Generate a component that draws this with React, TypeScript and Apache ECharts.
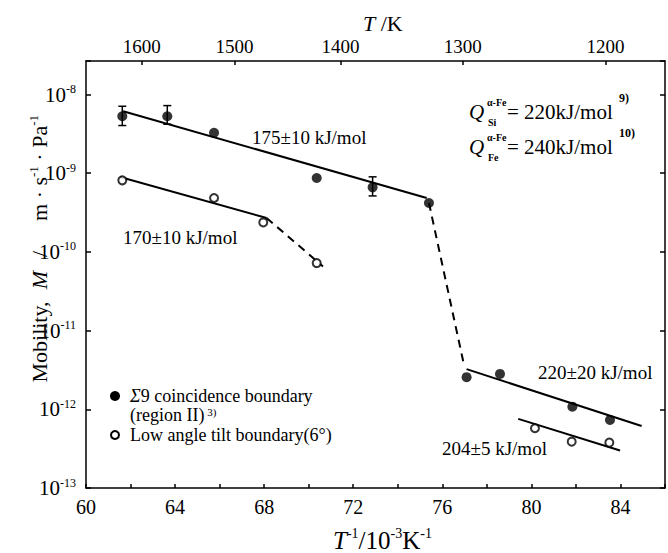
import React, { useEffect, useRef } from 'react';
import * as echarts from 'echarts';

const FONT = '"Liberation Serif", "Times New Roman", Times, serif';

// Σ9 coincidence boundary (filled circles)
const filledX = [61.63, 63.65, 65.75, 70.36, 72.87, 75.4, 77.09, 78.59, 81.84, 83.53];
const filledM = [5.3e-9, 5.3e-9, 3.26e-9, 8.71e-10, 6.62e-10, 4.19e-10, 2.56e-12, 2.82e-12, 1.08e-12, 7.33e-13];
// Low angle tilt boundary (open circles)
const openX = [61.63, 65.75, 67.96, 70.36, 80.16, 81.81, 83.5];
const openM = [8.13e-10, 4.85e-10, 2.37e-10, 7.22e-11, 5.75e-13, 3.88e-13, 3.77e-13];
// error bars
const errX = [61.63, 63.65, 72.87];
const errLow = [4.04e-9, 4.2e-9, 5.15e-10];
const errHigh = [7.1e-9, 7.24e-9, 9.0e-10];
// fitted lines (solid) and transitions (dashed)
const fitFilledHighX = [61.67, 75.3];
const fitFilledHighM = [6.13e-9, 4.85e-10];
const fitOpenHighX = [61.53, 68.11];
const fitOpenHighM = [8.97e-10, 2.7e-10];
const dashOpenX = [68.11, 70.64];
const dashOpenM = [2.7e-10, 6.55e-11];
const dashFilledX = [75.4, 76.99];
const dashFilledM = [4.19e-10, 3.49e-12];
const fitFilledLowX = [77.09, 84.95];
const fitFilledLowM = [3.24e-12, 6.15e-13];
const fitOpenLowX = [79.41, 83.98];
const fitOpenLowM = [7.55e-13, 2.99e-13];
// top axis temperatures (K)
const topTemps = [1600, 1500, 1400, 1300, 1200];
// activation energy labels
const energyLabels = ['175±10 kJ/mol', '170±10 kJ/mol', '220±20 kJ/mol', '204±5 kJ/mol'];

const zip = (xs: number[], ys: number[]) => xs.map((x, i) => [x, ys[i]]);

export default function App() {
  const ref = useRef<HTMLDivElement>(null);
  useEffect(() => {
    if (!ref.current) return;
    const chart = echarts.init(ref.current, null, { renderer: 'svg' });
    const black = '#000';
    const lineSeries = (xs: number[], ys: number[], dashed: boolean) => ({
      type: 'line',
      data: zip(xs, ys),
      symbol: 'none',
      silent: true,
      z: 2,
      lineStyle: { color: black, width: 2, type: dashed ? [8, 6] : 'solid' },
    });
    const txt = (text: string, x: number, y: number, size: number, extra: any = {}) => ({
      type: 'text',
      x,
      y,
      z: 10,
      style: {
        text,
        fill: black,
        fontSize: size,
        fontFamily: FONT,
        align: 'left',
        verticalAlign: 'middle',
        textAlign: 'left',
        textVerticalAlign: 'middle',
        ...extra,
      },
    });
    const richBase = (size: number, sup: number, lh: number = size + 2) => ({
      n: { fontSize: size, fontFamily: FONT, color: black, lineHeight: lh },
      i: { fontSize: size, fontFamily: FONT, color: black, fontStyle: 'italic', lineHeight: lh },
      s: { fontSize: sup, fontFamily: FONT, color: black, verticalAlign: 'top', lineHeight: sup + 1 },
      b: { fontSize: sup, fontFamily: FONT, color: black, verticalAlign: 'bottom', lineHeight: sup + 1 },
    });
    const topVals = topTemps.map((t) => 1e5 / t);

    chart.setOption({
      animation: false,
      backgroundColor: '#fff',
      grid: { left: 86, right: 3, top: 61, bottom: 65 },
      xAxis: [
        {
          type: 'value',
          min: 60,
          max: 86,
          interval: 2,
          position: 'bottom',
          axisLine: { show: true, onZero: false, lineStyle: { color: black, width: 1.5 } },
          axisTick: { show: true, inside: true, length: 4, lineStyle: { color: black, width: 1.5 } },
          axisLabel: {
            formatter: (v: number) => (v % 4 === 0 && v < 86 ? String(v) : ''),
            fontSize: 20,
            fontFamily: FONT,
            color: black,
            margin: 9,
          },
          splitLine: { show: false },
        },
        {
          type: 'value',
          min: 60,
          max: 86,
          position: 'top',
          axisLine: { show: true, onZero: false, lineStyle: { color: black, width: 1.5 } },
          axisTick: { show: true, inside: true, length: 4, customValues: topVals, lineStyle: { color: black, width: 1.5 } },
          axisLabel: {
            customValues: topVals,
            formatter: (v: number) => String(Math.round(1e5 / v)),
            fontSize: 19,
            fontFamily: FONT,
            color: black,
            margin: 5,
          },
          splitLine: { show: false },
        },
      ],
      yAxis: [
        {
          type: 'log',
          logBase: 10,
          min: 1e-13,
          max: 2.67e-8,
          position: 'left',
          axisLine: { show: true, onZero: false, lineStyle: { color: black, width: 1.5 } },
          axisTick: { show: true, inside: true, length: 5, lineStyle: { color: black, width: 1.5 } },
          axisLabel: {
            formatter: (v: number) => {
              const l = Math.log10(v);
              const e = Math.round(l);
              if (Math.abs(l - e) > 0.01) return '';
              return `{n|10}{s|${e}}`;
            },
            margin: 10,
            rich: richBase(21, 12),
          },
          splitLine: { show: false },
        },
        {
          type: 'log',
          logBase: 10,
          min: 1e-13,
          max: 2.67e-8,
          position: 'right',
          axisLine: { show: true, onZero: false, lineStyle: { color: black, width: 1.5 } },
          axisTick: { show: true, inside: true, length: 5, lineStyle: { color: black, width: 1.5 } },
          axisLabel: { show: false },
          splitLine: { show: false },
        },
      ],
      series: [
        lineSeries(fitFilledHighX, fitFilledHighM, false),
        lineSeries(fitOpenHighX, fitOpenHighM, false),
        lineSeries(dashOpenX, dashOpenM, true),
        lineSeries(dashFilledX, dashFilledM, true),
        lineSeries(fitFilledLowX, fitFilledLowM, false),
        lineSeries(fitOpenLowX, fitOpenLowM, false),
        {
          type: 'custom',
          z: 3,
          silent: true,
          data: errX.map((x, i) => [x, errLow[i], errHigh[i]]),
          renderItem: (params: any, api: any) => {
            const x = api.value(0);
            const lo = api.coord([x, api.value(1)]);
            const hi = api.coord([x, api.value(2)]);
            const st = { stroke: black, lineWidth: 1.5 };
            return {
              type: 'group',
              children: [
                { type: 'line', shape: { x1: lo[0], y1: lo[1], x2: hi[0], y2: hi[1] }, style: st },
                { type: 'line', shape: { x1: hi[0] - 4, y1: hi[1], x2: hi[0] + 4, y2: hi[1] }, style: st },
                { type: 'line', shape: { x1: lo[0] - 4, y1: lo[1], x2: lo[0] + 4, y2: lo[1] }, style: st },
              ],
            };
          },
        },
        {
          type: 'scatter',
          z: 5,
          data: zip(filledX, filledM),
          symbol: 'circle',
          symbolSize: 10,
          itemStyle: { color: black },
        },
        {
          type: 'scatter',
          z: 5,
          data: zip(openX, openM),
          symbol: 'circle',
          symbolSize: 8,
          itemStyle: { color: '#fff', borderColor: black, borderWidth: 2 },
        },
      ],
      graphic: [
        // axis titles
        txt('{i|T}{n| /K}', 363, 23, 22, { rich: richBase(22, 12) }),
        txt('{i|T}{s|-1}{n|/10}{s|-3}{n|K}{s|-1}', 333, 540, 25, { rich: richBase(25, 14) }),
        { ...txt('Mobility,', 39, 342, 22, { align: 'center', textAlign: 'center' }), rotation: Math.PI / 2 },
        { ...txt('{i|M}', 39, 280, 22, { align: 'center', textAlign: 'center', rich: richBase(22, 13) }), rotation: Math.PI / 2 },
        { ...txt('/', 39, 254, 22, { align: 'center', textAlign: 'center' }), rotation: Math.PI / 2 },
        {
          ...txt('{n|m · s}{s|-1}{n| · Pa}{s|-1}', 39, 168, 22, {
            align: 'center',
            textAlign: 'center',
            rich: richBase(22, 13),
          }),
          rotation: Math.PI / 2,
        },
        // energy labels
        txt(energyLabels[0], 252, 137, 19),
        txt(energyLabels[1], 123, 237, 19),
        txt(energyLabels[2], 538, 372, 19),
        txt(energyLabels[3], 442, 448, 19),
        // Q annotations
        txt('Q', 469, 112, 21, { fontStyle: 'italic' }),
        txt('α-Fe', 487, 102, 10, { fontWeight: 'bold' }),
        txt('Si', 488, 122, 10, { fontWeight: 'bold' }),
        txt('= 220kJ/mol', 507, 112, 21),
        txt('9)', 619, 98, 12, { fontWeight: 'bold' }),
        txt('Q', 469, 147, 21, { fontStyle: 'italic' }),
        txt('α-Fe', 487, 137, 10, { fontWeight: 'bold' }),
        txt('Fe', 488, 157, 10, { fontWeight: 'bold' }),
        txt('= 240kJ/mol', 507, 147, 21),
        txt('10)', 619, 133, 12, { fontWeight: 'bold' }),
        // legend
        { type: 'circle', z: 10, shape: { cx: 115, cy: 396, r: 5 }, style: { fill: black } },
        txt('{i|Σ}{n|9 coincidence boundary}', 130, 396, 18, { rich: richBase(18, 11, 18) }),
        txt('{n|(region II)}{s| 3)}', 130, 415, 18, { rich: richBase(18, 11, 18) }),
        { type: 'circle', z: 10, shape: { cx: 115, cy: 435, r: 4 }, style: { fill: '#fff', stroke: black, lineWidth: 2 } },
        txt('Low angle tilt boundary(6°)', 130, 435, 18, { lineHeight: 18 }),
      ],
    });
    return () => chart.dispose();
  }, []);
  return (
    <div
      ref={ref}
      style={{ position: 'fixed', left: 0, top: 0, width: 668, height: 553, background: '#fff' }}
    />
  );
}
